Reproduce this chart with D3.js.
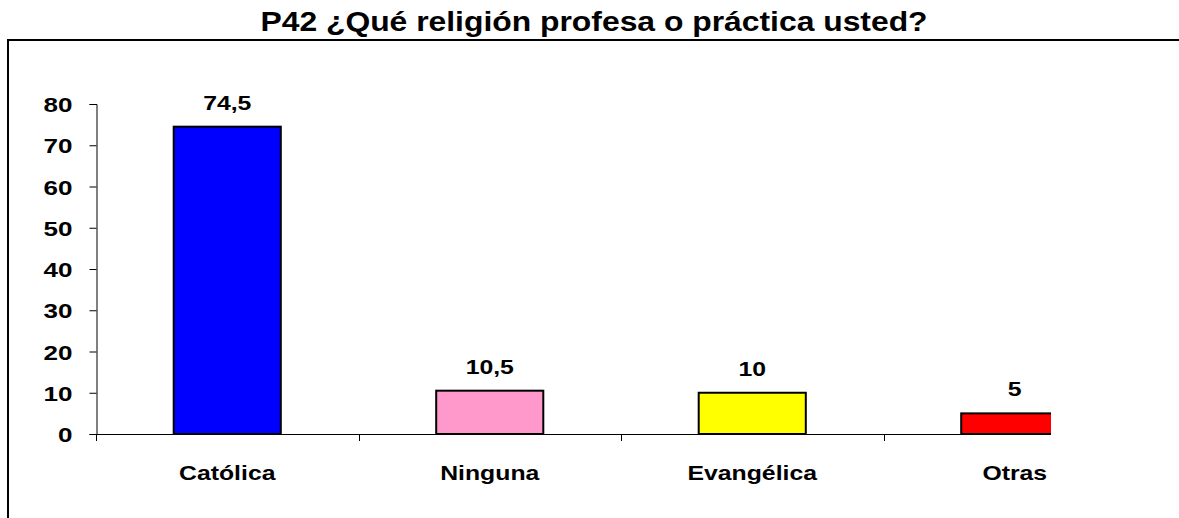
<!DOCTYPE html>
<html>
<head>
<meta charset="utf-8">
<script src="https://cdn.jsdelivr.net/npm/d3@7"></script>
<style>
  body { margin: 0; background: #fff; }
  svg { display: block; font-family: Arial, "Liberation Sans", sans-serif; font-weight: bold; }
</style>
</head>
<body>
<svg width="1179" height="518"></svg>
<script>
// data
var categories = ["Católica", "Ninguna", "Evangélica", "Otras"];
var values = [74.5, 10.5, 10, 5];
var valueLabels = ["74,5", "10,5", "10", "5"];
var barColors = ["#0000ff", "#ff99cc", "#ffff00", "#ff0000"];
var yTicks = [0, 10, 20, 30, 40, 50, 60, 70, 80];
var title = "P42 ¿Qué religión profesa o práctica usted?";

var svg = d3.select("svg");
var stretch = 1.24; // text in the source is wider than plain Arial

// frame (cut off at right and bottom)
svg.append("path")
    .attr("d", "M8,518 L8,40 L1185,40")
    .attr("fill", "none")
    .attr("stroke", "#000")
    .attr("stroke-width", 2);

// title
svg.append("text")
    .attr("transform", "translate(594,31) scale(1.18,1)")
    .attr("text-anchor", "middle")
    .style("font-size", "27px")
    .attr("fill", "#000")
    .text(title);

// scales
var x = d3.scaleBand()
    .domain(categories)
    .range([96, 1146])
    .paddingInner(0.592)
    .paddingOuter(0.296);

var y = d3.scaleLinear()
    .domain([0, 80])
    .range([434, 104]);

var clipRight = 1051;
svg.append("clipPath").attr("id", "plotclip")
    .append("rect")
    .attr("x", 0).attr("y", 0)
    .attr("width", clipRight).attr("height", 518);

var data = categories.map(function(c, i) {
    return {cat: c, value: values[i], label: valueLabels[i], color: barColors[i]};
});

var plot = svg.append("g").attr("clip-path", "url(#plotclip)");

// bars
plot.selectAll(".bar")
    .data(data)
    .enter().append("rect")
        .attr("class", "bar")
        .attr("x", function(d) { return x(d.cat); })
        .attr("y", function(d) { return y(d.value); })
        .attr("width", x.bandwidth())
        .attr("height", function(d) { return y(0) - y(d.value); })
        .attr("fill", function(d) { return d.color; })
        .attr("stroke", "#000")
        .attr("stroke-width", 2);

// x axis line + ticks at band boundaries
var bounds = categories.map(function(c) { return x(c) - x.step() * x.paddingOuter(); });
plot.append("line")
    .attr("x1", 96).attr("x2", 1146)
    .attr("y1", y(0) + 0.5).attr("y2", y(0) + 0.5)
    .attr("stroke", "#000");
plot.selectAll(".xtick")
    .data(bounds)
    .enter().append("line")
        .attr("class", "xtick")
        .attr("x1", function(d) { return Math.round(d) + 0.5; })
        .attr("x2", function(d) { return Math.round(d) + 0.5; })
        .attr("y1", y(0))
        .attr("y2", y(0) + 7)
        .attr("stroke", "#000");

// y axis
var yAxis = svg.append("g")
    .attr("transform", "translate(96.5,0)")
    .call(d3.axisLeft(y).tickValues(yTicks).tickSize(7).tickSizeOuter(7).tickPadding(17));
yAxis.select(".domain").attr("stroke", "#000");
yAxis.selectAll(".tick line").attr("stroke", "#000");
yAxis.selectAll(".tick text")
    .attr("fill", "#000")
    .style("font-size", "21px")
    .style("font-family", "Arial, 'Liberation Sans', sans-serif")
    .attr("x", null)
    .attr("dy", null)
    .attr("transform", "translate(-24,7.5) scale(" + stretch + ",1)");

// category labels
svg.selectAll(".cat")
    .data(data)
    .enter().append("text")
        .attr("class", "cat")
        .attr("transform", function(d) {
            return "translate(" + (x(d.cat) + x.bandwidth() / 2) + ",480) scale(" + stretch + ",1)";
        })
        .attr("text-anchor", "middle")
        .style("font-size", "20px")
        .attr("fill", "#000")
        .text(function(d) { return d.cat; });

// value labels
svg.selectAll(".val")
    .data(data)
    .enter().append("text")
        .attr("class", "val")
        .attr("transform", function(d) {
            return "translate(" + (x(d.cat) + x.bandwidth() / 2) + "," + (y(d.value) - 17) + ") scale(" + stretch + ",1)";
        })
        .attr("text-anchor", "middle")
        .style("font-size", "20px")
        .attr("fill", "#000")
        .text(function(d) { return d.label; });
</script>
</body>
</html>
